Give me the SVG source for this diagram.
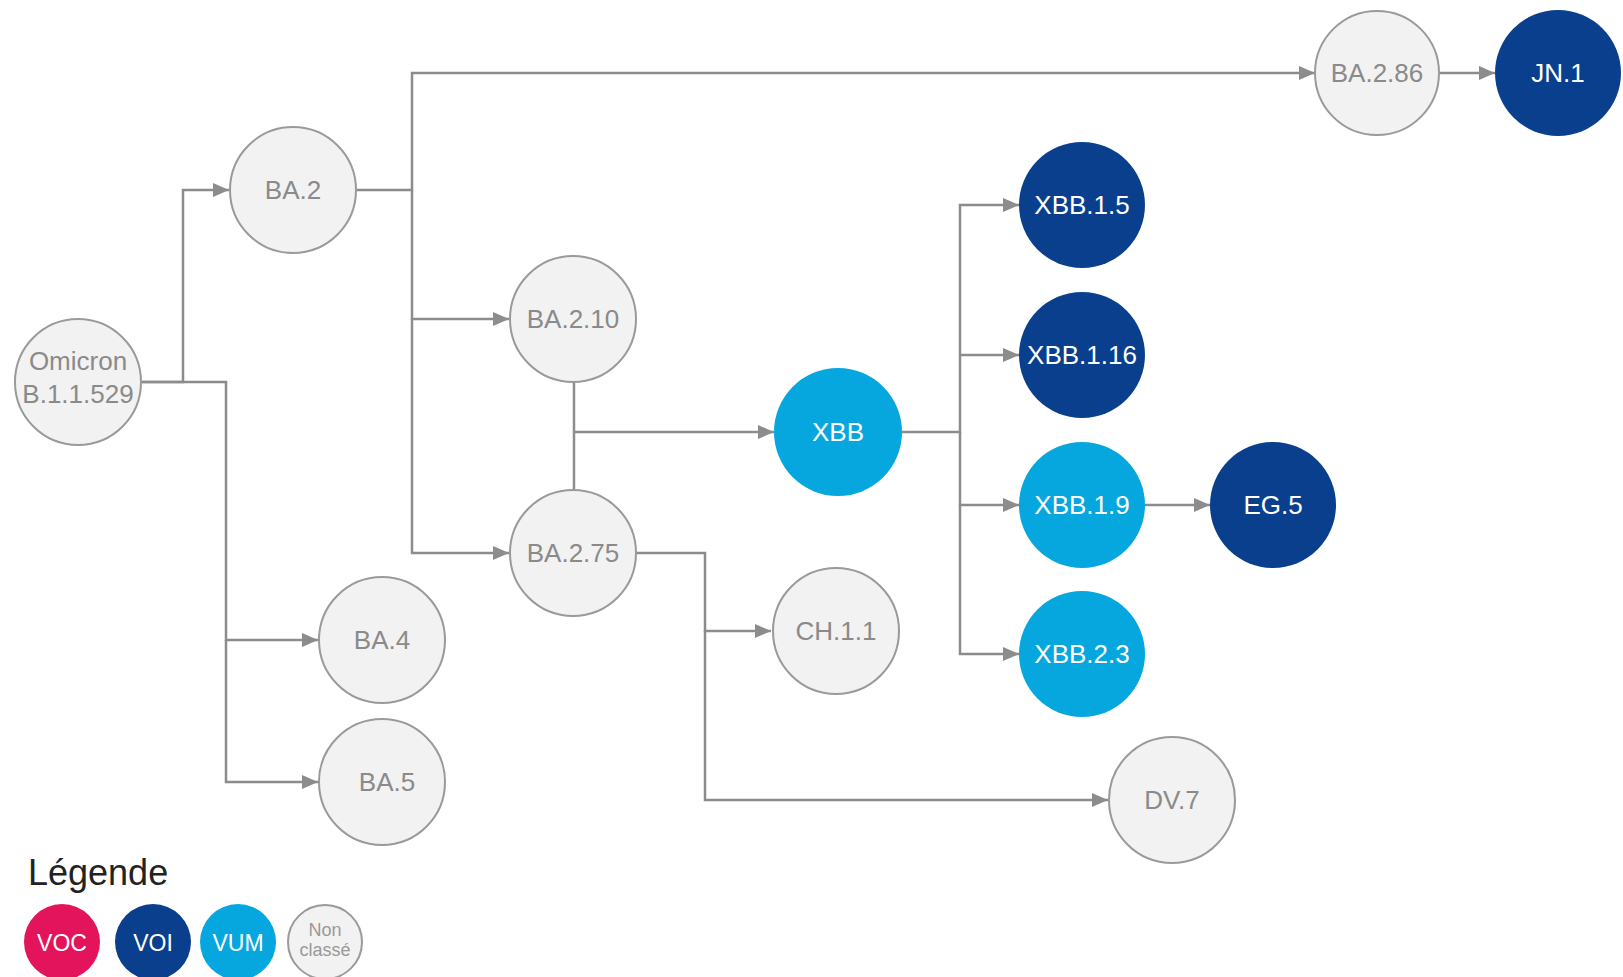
<svg xmlns="http://www.w3.org/2000/svg" width="1623" height="977" viewBox="0 0 1623 977">
<defs>
<style>
.conn{fill:none;stroke:#8c8c8c;stroke-width:2.5}
.nc{fill:#f2f2f2;stroke:#9a9a9a;stroke-width:2}
.voi{fill:#0a3f8e}
.vum{fill:#06a6de}
.voc{fill:#e3145b}
.lg{font-family:"Liberation Sans",Arial,sans-serif;font-size:26px;text-anchor:middle;fill:#8a8a8a}
.lw{font-family:"Liberation Sans",Arial,sans-serif;font-size:26px;text-anchor:middle;fill:#ffffff}
.leg{font-family:"Liberation Sans",Arial,sans-serif;text-anchor:middle}
</style>
<marker id="ah" markerUnits="userSpaceOnUse" markerWidth="16" markerHeight="14" refX="16" refY="7" orient="auto">
<path d="M0,0 L16,7 L0,14 z" fill="#8c8c8c"/>
</marker>
</defs>
<rect width="1623" height="977" fill="#ffffff"/>
<g id="connectors">
<path class="conn" marker-end="url(#ah)" d="M141,382 H183 V190 H229"/>
<path class="conn" marker-end="url(#ah)" d="M141,382 H226 V640 H318"/>
<path class="conn" marker-end="url(#ah)" d="M226,640 V782 H318"/>
<path class="conn" marker-end="url(#ah)" d="M357,190 H412 V73 H1315"/>
<path class="conn" marker-end="url(#ah)" d="M412,190 V319 H509"/>
<path class="conn" marker-end="url(#ah)" d="M412,319 V553 H509"/>
<path class="conn" d="M574,383 V489"/>
<path class="conn" marker-end="url(#ah)" d="M574,432 H774"/>
<path class="conn" marker-end="url(#ah)" d="M636,553 H705 V631 H771"/>
<path class="conn" marker-end="url(#ah)" d="M705,631 V800 H1108"/>
<path class="conn" marker-end="url(#ah)" d="M902,432 H960 V205 H1019"/>
<path class="conn" marker-end="url(#ah)" d="M960,355 H1019"/>
<path class="conn" marker-end="url(#ah)" d="M960,432 V505 H1019"/>
<path class="conn" marker-end="url(#ah)" d="M960,505 V654 H1019"/>
<path class="conn" marker-end="url(#ah)" d="M1145,505 H1210"/>
<path class="conn" marker-end="url(#ah)" d="M1440,73 H1495"/>
</g>
<g id="omicron"><circle class="nc" cx="78" cy="382" r="63"/><text class="lg" x="78" y="370">Omicron</text><text class="lg" x="78" y="403">B.1.1.529</text></g>
<g id="ba2"><circle class="nc" cx="293" cy="190" r="63"/><text class="lg" x="293" y="199">BA.2</text></g>
<g id="ba4"><circle class="nc" cx="382" cy="640" r="63"/><text class="lg" x="382" y="649">BA.4</text></g>
<g id="ba5"><circle class="nc" cx="382" cy="782" r="63"/><text class="lg" x="387" y="791">BA.5</text></g>
<g id="ba210"><circle class="nc" cx="573" cy="319" r="63"/><text class="lg" x="573" y="328">BA.2.10</text></g>
<g id="ba275"><circle class="nc" cx="573" cy="553" r="63"/><text class="lg" x="573" y="562">BA.2.75</text></g>
<g id="xbb"><circle class="vum" cx="838" cy="432" r="64"/><text class="lw" x="838" y="441">XBB</text></g>
<g id="ch11"><circle class="nc" cx="836" cy="631" r="63"/><text class="lg" x="836" y="640">CH.1.1</text></g>
<g id="dv7"><circle class="nc" cx="1172" cy="800" r="63"/><text class="lg" x="1172" y="809">DV.7</text></g>
<g id="xbb15"><circle class="voi" cx="1082" cy="205" r="63"/><text class="lw" x="1082" y="214">XBB.1.5</text></g>
<g id="xbb116"><circle class="voi" cx="1082" cy="355" r="63"/><text class="lw" x="1082" y="364">XBB.1.16</text></g>
<g id="xbb19"><circle class="vum" cx="1082" cy="505" r="63"/><text class="lw" x="1082" y="514">XBB.1.9</text></g>
<g id="xbb23"><circle class="vum" cx="1082" cy="654" r="63"/><text class="lw" x="1082" y="663">XBB.2.3</text></g>
<g id="eg5"><circle class="voi" cx="1273" cy="505" r="63"/><text class="lw" x="1273" y="514">EG.5</text></g>
<g id="ba286"><circle class="nc" cx="1377" cy="73" r="62"/><text class="lg" x="1377" y="82">BA.2.86</text></g>
<g id="jn1"><circle class="voi" cx="1558" cy="73" r="63"/><text class="lw" x="1558" y="82">JN.1</text></g>
<g id="legend">
<text x="28" y="885" font-family="Liberation Sans,Arial,sans-serif" font-size="36" fill="#222222">Légende</text>
<circle class="voc" cx="62" cy="942" r="38"/><text class="leg" x="62" y="951" font-size="23" fill="#ffffff">VOC</text>
<circle class="voi" cx="153" cy="942" r="38"/><text class="leg" x="153" y="951" font-size="23" fill="#ffffff">VOI</text>
<circle class="vum" cx="238" cy="942" r="38"/><text class="leg" x="238" y="951" font-size="23" fill="#ffffff">VUM</text>
<circle class="nc" cx="325" cy="942" r="37"/><text class="leg" x="325" y="936" font-size="18" fill="#999999">Non</text><text class="leg" x="325" y="956" font-size="18" fill="#999999">classé</text>
</g>
</svg>
